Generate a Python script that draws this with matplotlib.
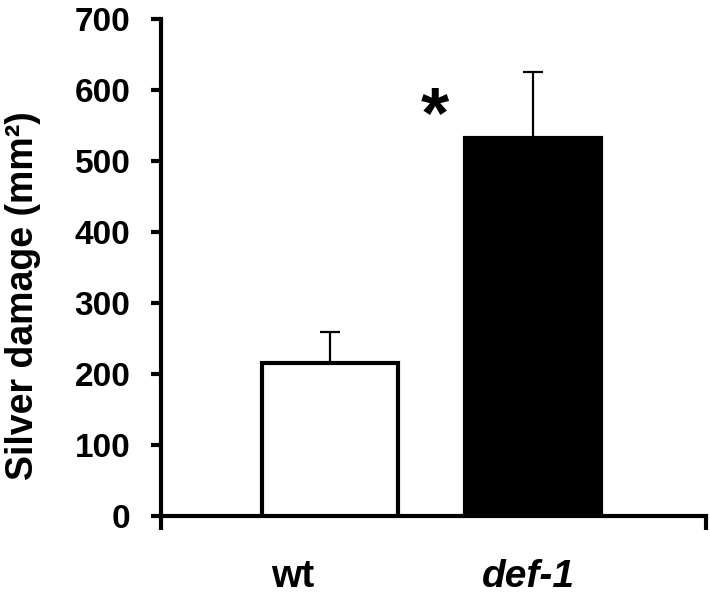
import matplotlib.pyplot as plt

plt.rcParams['font.family'] = ['Liberation Sans', 'DejaVu Sans']

groups = ["wt", "def-1"]
means = [215, 533]
errors = [44, 92]
bar_pos = [0.62, 1.365]
label_pos = [0.484, 1.347]
colors = ["white", "black"]

fig = plt.figure(figsize=(7.1, 6), dpi=100)
ax = fig.add_axes([0.2268, 0.14, 0.7676, 0.8283])

ax.bar(bar_pos, means, width=0.5, color=colors, edgecolor="black",
       linewidth=3, zorder=3)
ax.errorbar(bar_pos, means, yerr=[[0, 0], errors], fmt="none",
            ecolor="black", elinewidth=1.6, capsize=7, capthick=1.6, zorder=2)

ax.text(1.005, 560, "*", ha="center", va="center", fontsize=52,
        fontweight="bold")

ax.set_xlim(0, 2)
ax.set_ylim(0, 700)
ax.set_yticks(range(0, 701, 100))
ax.set_xticks(label_pos)
ax.set_xticklabels(groups)
ax.get_xticklabels()[1].set_style("italic")
ax.set_xticks([0, 2], minor=True)

for lab in ax.get_xticklabels() + ax.get_yticklabels():
    lab.set_fontweight("bold")

ax.tick_params(axis="x", which="major", length=0, pad=31, labelsize=28)
ax.tick_params(axis="x", which="minor", length=10, width=3, direction="out")
ax.tick_params(axis="y", length=7, width=3, direction="out", pad=15,
               labelsize=24)

for side in ["top", "right"]:
    ax.spines[side].set_visible(False)
for side in ["left", "bottom"]:
    ax.spines[side].set_linewidth(3)

ax.set_ylabel("Silver damage (mm²)", fontsize=27, fontweight="bold")
ax.yaxis.set_label_coords(-0.22, 0.443)

fig.savefig("out.png", dpi=100)
